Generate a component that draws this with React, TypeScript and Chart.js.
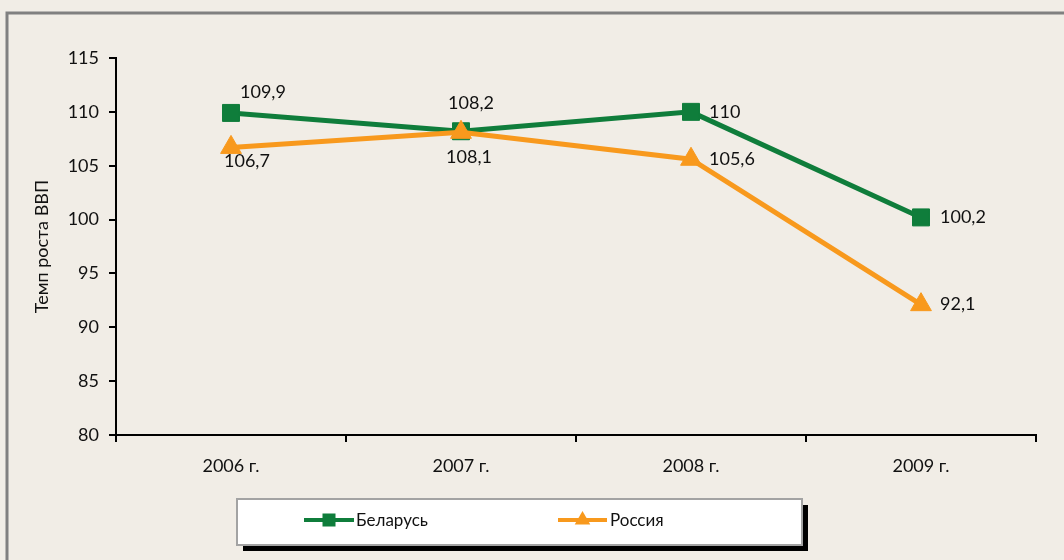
import React, { useEffect, useRef } from 'react';
import { Chart, registerables } from 'chart.js';

Chart.register(...registerables);

const years = ['2006 г.', '2007 г.', '2008 г.', '2009 г.'];
const belarus = [109.9, 108.2, 110, 100.2];
const russia = [106.7, 108.1, 105.6, 92.1];
const seriesNames = ['Беларусь', 'Россия'];
const yTitle = 'Темп роста ВВП';
const yMin = 80;
const yMax = 115;
const yStep = 5;

const GREEN = '#0f7d3b';
const ORANGE = '#f8991d';
const BG = '#f1ede6';
const FONT = 'Lato, "Noto Sans", sans-serif';

const fmt = (v: number) => String(v).replace('.', ',');

const framePlugin = {
  id: 'frame',
  beforeDraw(chart: any) {
    const { ctx, width, height } = chart;
    ctx.save();
    ctx.fillStyle = BG;
    ctx.fillRect(0, 0, width, height);
    ctx.strokeStyle = '#808080';
    ctx.lineWidth = 3;
    ctx.strokeRect(7, 13, width + 50, height + 50);
    ctx.restore();
  },
};

const labelPlugin = {
  id: 'valueLabels',
  afterDatasetsDraw(chart: any, _args: any, opts: any) {
    const ctx = chart.ctx;
    ctx.save();
    ctx.font = `18px ${FONT}`;
    ctx.fillStyle = '#111';
    ctx.textBaseline = 'middle';
    chart.data.datasets.forEach((ds: any, di: number) => {
      const meta = chart.getDatasetMeta(di);
      const offs = opts.offsets[di];
      meta.data.forEach((pt: any, i: number) => {
        const [dx, dy, align] = offs[i];
        ctx.textAlign = align;
        ctx.fillText(fmt(ds.data[i]), pt.x + dx, pt.y + dy);
      });
    });
    ctx.restore();
  },
};

const legendPlugin = {
  id: 'boxLegend',
  afterDraw(chart: any) {
    const ctx = chart.ctx;
    const x = 237, y = 499, w = 565, h = 46;
    ctx.save();
    ctx.fillStyle = '#000';
    ctx.fillRect(x + 6, y + 6, w, h);
    ctx.fillStyle = '#fff';
    ctx.fillRect(x, y, w, h);
    ctx.strokeStyle = '#a3a3a3';
    ctx.lineWidth = 2;
    ctx.strokeRect(x, y, w, h);
    const items = [
      { x1: 304, x2: 354, tx: 356 },
      { x1: 558, x2: 607, tx: 610 },
    ];
    const cy = 520;
    chart.data.datasets.forEach((ds: any, i: number) => {
      const it = items[i];
      ctx.strokeStyle = ds.borderColor;
      ctx.lineWidth = 4;
      ctx.beginPath();
      ctx.moveTo(it.x1, cy);
      ctx.lineTo(it.x2, cy);
      ctx.stroke();
      const cx = (it.x1 + it.x2) / 2;
      ctx.fillStyle = ds.borderColor;
      if (ds.pointStyle === 'rect') {
        ctx.fillRect(cx - 6.5, cy - 6.5, 13, 13);
      } else {
        const r = 9;
        ctx.beginPath();
        ctx.moveTo(cx, cy - r);
        ctx.lineTo(cx + r * 0.866, cy + r / 2);
        ctx.lineTo(cx - r * 0.866, cy + r / 2);
        ctx.closePath();
        ctx.fill();
      }
      ctx.fillStyle = '#111';
      ctx.font = `17px ${FONT}`;
      ctx.textAlign = 'left';
      ctx.textBaseline = 'middle';
      ctx.fillText(ds.label, it.tx, cy + 1);
    });
    ctx.restore();
  },
};

export default function App() {
  const ref = useRef<HTMLCanvasElement>(null);
  useEffect(() => {
    document.body.style.margin = '0';
    document.body.style.background = BG;
    const chart = new Chart(ref.current as HTMLCanvasElement, {
      type: 'line',
      data: {
        labels: years,
        datasets: [
          {
            label: seriesNames[0],
            data: belarus,
            borderColor: GREEN,
            backgroundColor: GREEN,
            borderWidth: 5,
            pointStyle: 'rect',
            pointRadius: 12,
            pointBorderWidth: 1,
            pointBackgroundColor: GREEN,
            pointBorderColor: GREEN,
            tension: 0,
            order: 1,
          },
          {
            label: seriesNames[1],
            data: russia,
            borderColor: ORANGE,
            backgroundColor: ORANGE,
            borderWidth: 5,
            pointStyle: 'triangle',
            pointRadius: 12,
            pointBorderWidth: 1,
            pointBackgroundColor: ORANGE,
            pointBorderColor: ORANGE,
            tension: 0,
            order: 0,
          },
        ],
      },
      options: {
        responsive: false,
        animation: false,
        events: [],
        layout: { padding: { top: 58, right: 28, bottom: 0, left: 0 } },
        plugins: {
          legend: { display: false },
          tooltip: { enabled: false },
          valueLabels: {
            offsets: [
              [[9, -21, 'left'], [10, -28, 'center'], [18, 0, 'left'], [19, 0, 'left']],
              [[-7, 14, 'left'], [8, 25, 'center'], [18, 0, 'left'], [19, 0, 'left']],
            ],
          },
        } as any,
        scales: {
          x: {
            offset: true,
            grid: {
              offset: true,
              drawOnChartArea: false,
              drawTicks: true,
              tickLength: 7,
              color: '#000',
              lineWidth: 2,
            },
            border: { display: true, color: '#000', width: 2 },
            ticks: { color: '#111', font: { family: FONT, size: 18 }, padding: 13, maxRotation: 0 },
            afterFit: (s: any) => { s.height = 125; },
          },
          y: {
            min: yMin,
            max: yMax,
            grid: {
              drawOnChartArea: false,
              drawTicks: true,
              tickLength: 7,
              color: '#000',
              lineWidth: 2,
            },
            border: { display: true, color: '#000', width: 2 },
            ticks: { stepSize: yStep, color: '#111', font: { family: FONT, size: 18 }, padding: 10 },
            title: {
              display: true,
              text: yTitle,
              color: '#111',
              font: { family: FONT, size: 18, lineHeight: 1.2 },
              padding: { top: 31, bottom: 0 },
            },
            afterFit: (s: any) => { s.width = 116; },
          },
        },
      },
      plugins: [framePlugin, labelPlugin, legendPlugin],
    });
    return () => chart.destroy();
  }, []);
  return (
    <div style={{ position: 'absolute', left: 0, top: 0, width: 1064, height: 560 }}>
      <canvas ref={ref} width={1064} height={560} />
    </div>
  );
}
